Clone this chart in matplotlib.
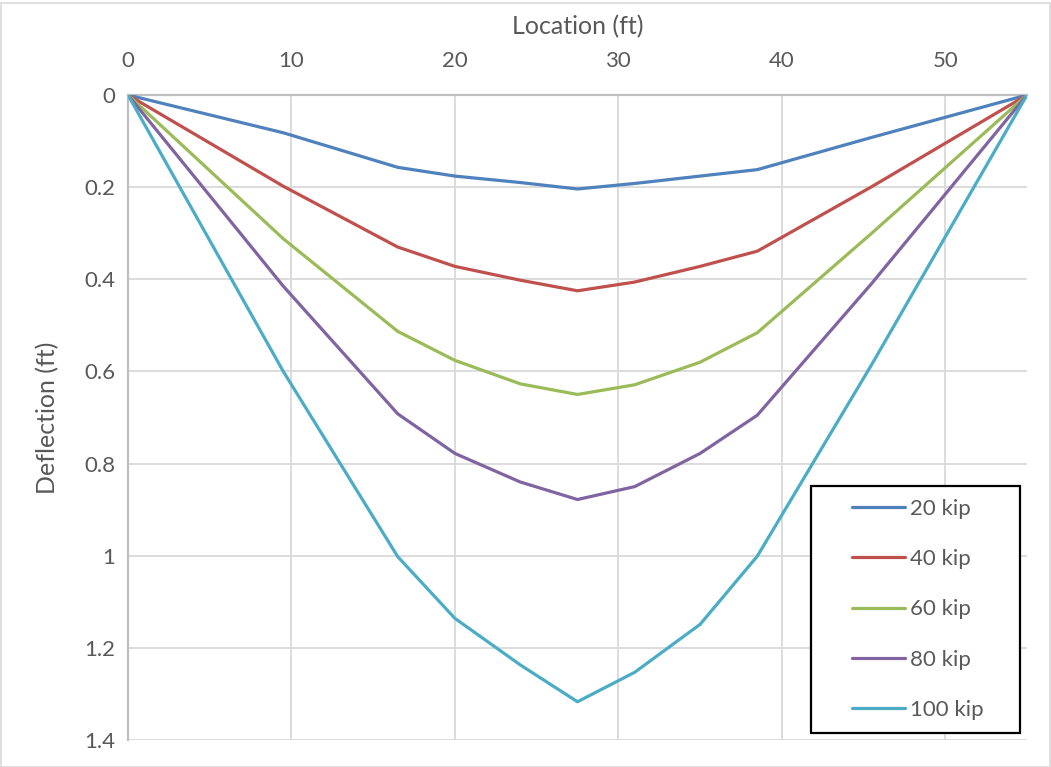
import matplotlib
matplotlib.use("Agg")
import matplotlib.pyplot as plt
from matplotlib.patches import Rectangle

plt.rcParams['font.family'] = ['Lato', 'DejaVu Sans']

# Deflected shape of the beam under each load case
location_ft = [0, 9.5, 16.5, 20, 24, 27.5, 31, 35, 38.5, 45.5, 55]
defl_20kip = [0, 0.082, 0.157, 0.176, 0.190, 0.204, 0.192, 0.176, 0.162, 0.092, 0]
defl_40kip = [0, 0.198, 0.330, 0.372, 0.402, 0.425, 0.406, 0.372, 0.339, 0.199, 0]
defl_60kip = [0, 0.312, 0.513, 0.576, 0.627, 0.650, 0.629, 0.580, 0.516, 0.300, 0]
defl_80kip = [0, 0.415, 0.692, 0.778, 0.840, 0.878, 0.850, 0.778, 0.695, 0.409, 0]
defl_100kip = [0, 0.600, 1.002, 1.136, 1.237, 1.317, 1.253, 1.149, 1.001, 0.585, 0]

series_labels = ['20 kip', '40 kip', '60 kip', '80 kip', '100 kip']
series_values = [defl_20kip, defl_40kip, defl_60kip, defl_80kip, defl_100kip]
series_colors = ['#4F81BD', '#C0504D', '#9BBB59', '#8064A2', '#4BACC6']

x_ticks = [0, 10, 20, 30, 40, 50]
y_ticks = [0, 0.2, 0.4, 0.6, 0.8, 1.0, 1.2, 1.4]
y_tick_labels = ['0', '0.2', '0.4', '0.6', '0.8', '1', '1.2', '1.4']

W, H = 1051, 767
fig = plt.figure(figsize=(W / 100, H / 100), dpi=100)
ax = fig.add_axes([128 / W, 1 - 740 / H, (1027 - 128) / W, (740 - 95) / H])

for vals, lab, col in zip(series_values, series_labels, series_colors):
    ax.plot(location_ft, vals, color=col, lw=2.3, label=lab,
            solid_joinstyle='round', solid_capstyle='round', zorder=3)

ax.set_xlim(0, 55)
ax.set_ylim(1.4, 0)
ax.set_xticks(x_ticks)
ax.set_yticks(y_ticks)
ax.set_yticklabels(y_tick_labels)
ax.xaxis.tick_top()
ax.xaxis.set_label_position('top')

grid_c = '#D9D9D9'
ax.grid(True, color=grid_c, lw=1.3, zorder=0)
for s in ['right', 'bottom']:
    ax.spines[s].set_visible(False)
for s in ['left', 'top']:
    ax.spines[s].set_color('#BFBFBF')
    ax.spines[s].set_linewidth(1.6)

txt_c = '#595959'
ax.tick_params(axis='both', length=0, labelsize=16, colors=txt_c)
ax.tick_params(axis='x', pad=17)
ax.tick_params(axis='y', pad=9)
ax.set_xlabel('Location (ft)', fontsize=18, color=txt_c, labelpad=12)
ax.set_ylabel('Deflection (ft)', fontsize=18, color=txt_c, labelpad=18)

# Legend box with a black frame
ax.add_patch(Rectangle(((811 - 128) / (1027 - 128), (740 - 733) / 645),
                       (1020 - 811) / (1027 - 128), (733 - 486) / 645,
                       transform=ax.transAxes, fill=True, facecolor='white',
                       edgecolor='black', lw=1.6, zorder=5, clip_on=False))
leg = ax.legend(loc='upper left',
                bbox_to_anchor=((852 - 128) / (1027 - 128), (740 - 499) / 645),
                frameon=False, fontsize=16, handlelength=2.4, handletextpad=0.22,
                labelspacing=1.36, borderpad=0, borderaxespad=0)
leg.set_zorder(6)
for t in leg.get_texts():
    t.set_color(txt_c)

# Light chart-area border
fig.patches.append(Rectangle((0.5 / W, 0.5 / H), (W - 2) / W, (H - 3) / H,
                             transform=fig.transFigure, fill=False,
                             edgecolor=grid_c, lw=1.2))

fig.savefig('out.png', dpi=100, facecolor='white')
